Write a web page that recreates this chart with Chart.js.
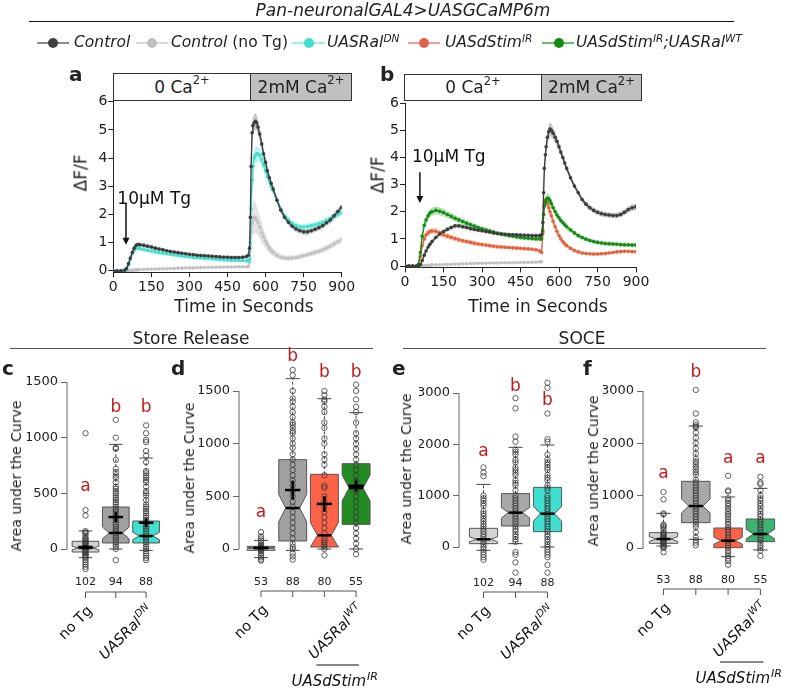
<!DOCTYPE html>
<html><head><meta charset="utf-8">
<script src="https://cdn.jsdelivr.net/npm/chart.js@4.4.1/dist/chart.umd.min.js"></script>
<style>
html,body{margin:0;padding:0;background:#fff}
body{width:787px;height:688px;position:relative;overflow:hidden;font-family:'DejaVu Sans',Verdana,sans-serif;color:#222}
canvas{position:absolute;left:0;top:0}
.t{position:absolute;white-space:nowrap;line-height:1}
.c{transform:translateX(-50%)}
.r{transform:translate(-50%,-50%) rotate(-90deg)}
.sup{font-size:0.68em;position:relative;top:-0.5em}
.hb{position:absolute;box-sizing:border-box;border:1px solid #333;font-size:17px;display:flex;align-items:center;justify-content:center;line-height:1}
.lg{position:absolute}
.pl{position:absolute;font-weight:bold;font-size:20px;line-height:1}
.rule{position:absolute;height:0;border-top:1px solid #555}
</style></head>
<body>
<canvas id="ca" width="787" height="688"></canvas>
<canvas id="cb" width="787" height="688"></canvas>
<canvas id="cc" width="787" height="688"></canvas>
<canvas id="cd" width="787" height="688"></canvas>
<canvas id="ce" width="787" height="688"></canvas>
<canvas id="cf" width="787" height="688"></canvas>

<div class="t c" style="left:403px;top:2px;font-size:17px;font-style:italic">Pan-neuronalGAL4&gt;UASGCaMP6m</div>
<div style="position:absolute;left:29px;top:21px;width:705px;height:0;border-top:1.5px solid #111"></div>

<svg class="lg" style="left:37px;top:37px" width="32" height="12"><line x1="0" y1="6" x2="32" y2="6" stroke="#404040" stroke-width="1.2"/><circle cx="16" cy="6" r="5" fill="#404040"/></svg>
<div class="t" style="left:74px;top:35px;font-size:15.5px;font-style:italic">Control</div>
<svg class="lg" style="left:136px;top:37px" width="32" height="12"><line x1="0" y1="6" x2="32" y2="6" stroke="#c0c0c0" stroke-width="1.2"/><circle cx="16" cy="6" r="5" fill="#c0c0c0"/></svg>
<div class="t" style="left:171px;top:35px;font-size:15.5px"><i>Control</i> (no Tg)</div>
<svg class="lg" style="left:292px;top:37px" width="33" height="12"><line x1="0" y1="6" x2="33" y2="6" stroke="#40e0d0" stroke-width="1.2"/><circle cx="17" cy="6" r="5" fill="#40e0d0"/></svg>
<div class="t" style="left:327px;top:35px;font-size:15.5px;font-style:italic">UASRal<span class="sup">DN</span></div>
<svg class="lg" style="left:408px;top:37px" width="32" height="12"><line x1="0" y1="6" x2="32" y2="6" stroke="#e0604a" stroke-width="1.2"/><circle cx="16" cy="6" r="5" fill="#e0604a"/></svg>
<div class="t" style="left:445px;top:35px;font-size:15.5px;font-style:italic">UASdStim<span class="sup">IR</span></div>
<svg class="lg" style="left:542px;top:37px" width="32" height="12"><line x1="0" y1="6" x2="32" y2="6" stroke="#138d13" stroke-width="1.2"/><circle cx="17" cy="6" r="5" fill="#138d13"/></svg>
<div class="t" style="left:576px;top:35px;font-size:15.5px;font-style:italic">UASdStim<span class="sup">IR</span>;UASRal<span class="sup">WT</span></div>

<div class="pl" style="left:69px;top:64px">a</div>
<div class="pl" style="left:380px;top:64px">b</div>
<div class="pl" style="left:2px;top:358px">c</div>
<div class="pl" style="left:171px;top:358px">d</div>
<div class="pl" style="left:392px;top:358px">e</div>
<div class="pl" style="left:583px;top:358px">f</div>

<div class="hb" style="left:113px;top:73px;width:138px;height:28px;background:#fff">0 Ca<span class="sup">2+</span></div>
<div class="hb" style="left:250px;top:73px;width:102px;height:28px;background:#c0c0c0">2mM Ca<span class="sup">2+</span></div>
<div class="hb" style="left:404px;top:74px;width:138px;height:27px;background:#fff">0 Ca<span class="sup">2+</span></div>
<div class="hb" style="left:541px;top:74px;width:101px;height:27px;background:#c0c0c0">2mM Ca<span class="sup">2+</span></div>

<div class="t r" style="left:81px;top:173px;font-size:17px">ΔF/F</div>
<div class="t r" style="left:378px;top:175px;font-size:17px">ΔF/F</div>
<div class="t c" style="left:244px;top:298px;font-size:17px">Time in Seconds</div>
<div class="t c" style="left:538px;top:298px;font-size:17px">Time in Seconds</div>

<div class="t c" style="left:191px;top:330px;font-size:17px">Store Release</div>
<div class="rule" style="left:10px;top:348px;width:363px"></div>
<div class="t c" style="left:582px;top:330px;font-size:17px">SOCE</div>
<div class="rule" style="left:403px;top:348px;width:363px"></div>

<div class="t r" style="left:16px;top:476px;font-size:14px">Area under the Curve</div>
<div class="t r" style="left:189px;top:478px;font-size:14px">Area under the Curve</div>
<div class="t r" style="left:406px;top:469px;font-size:14px">Area under the Curve</div>
<div class="t r" style="left:593px;top:471px;font-size:14px">Area under the Curve</div>

<script>
// ===================== DATA =====================
const timeSec = [0,15,30,45, 52,60,67,75,82,90,97,105,
 120,135,150,165,180,195,210,225,240,255,270,285,300,315,330,345,360,375,390,405,420,435,450,465,480,495,510,525,
 532,537,540,543,547,550,555,560,565,570,577,585,592,600,607,615,622,630,
 645,660,675,690,705,720,735,750,765,780,795,810,825,840,855,870,885,900];
const xTicksTime = [0,150,300,450,600,750,900];
const yTicksDF = [0,1,2,3,4,5,6];

// Panel a
const aControl = [0,0,0,0.02, 0.08,0.25,0.45,0.65,0.8,0.9,0.93,0.92,
 0.9,0.87,0.84,0.8,0.77,0.74,0.71,0.68,0.66,0.64,0.62,0.6,0.58,0.57,0.55,0.54,0.53,0.52,0.51,0.5,0.49,0.48,0.48,0.47,0.47,0.47,0.48,0.5,
 0.55,0.8,1.9,3.7,4.9,5.15,5.25,5.3,5.25,5.1,4.85,4.5,4.15,3.85,3.55,3.3,3.1,2.9,
 2.5,2.15,1.9,1.72,1.58,1.48,1.42,1.38,1.38,1.42,1.47,1.53,1.6,1.7,1.8,1.95,2.1,2.25];
const aControlSem = [0.02,0.02,0.02,0.02, 0.03,0.04,0.05,0.06,0.07,0.08,0.08,0.08,
 0.08,0.08,0.07,0.07,0.07,0.07,0.06,0.06,0.06,0.06,0.06,0.06,0.06,0.06,0.06,0.06,0.06,0.06,0.06,0.06,0.06,0.06,0.06,0.06,0.06,0.06,0.06,0.07,
 0.08,0.15,0.3,0.3,0.3,0.3,0.3,0.3,0.28,0.27,0.25,0.22,0.2,0.18,0.16,0.15,0.14,0.13,
 0.12,0.11,0.1,0.1,0.1,0.1,0.1,0.1,0.1,0.1,0.1,0.1,0.11,0.11,0.12,0.12,0.13,0.13];
const aRalDN = [0,0,0,0, 0.05,0.2,0.4,0.6,0.72,0.8,0.8,0.78,
 0.75,0.72,0.7,0.67,0.64,0.62,0.6,0.58,0.56,0.54,0.52,0.5,0.49,0.47,0.46,0.45,0.44,0.43,0.42,0.41,0.4,0.39,0.38,0.37,0.37,0.36,0.36,0.35,
 0.36,0.4,1.0,2.2,3.2,3.7,4.0,4.1,4.15,4.15,4.1,3.95,3.75,3.55,3.35,3.2,3.0,2.85,
 2.5,2.2,1.95,1.8,1.68,1.6,1.56,1.55,1.57,1.6,1.63,1.67,1.72,1.78,1.85,1.92,2.0,2.05];
const aRalDNSem = [0.02,0.02,0.02,0.02, 0.03,0.04,0.05,0.06,0.07,0.07,0.07,0.07,
 0.07,0.07,0.07,0.07,0.07,0.07,0.06,0.06,0.06,0.06,0.06,0.06,0.06,0.06,0.06,0.06,0.06,0.06,0.06,0.06,0.06,0.06,0.06,0.06,0.06,0.06,0.06,0.06,
 0.07,0.1,0.25,0.3,0.3,0.3,0.3,0.3,0.28,0.26,0.24,0.22,0.2,0.18,0.17,0.16,0.15,0.14,
 0.13,0.12,0.11,0.11,0.1,0.1,0.1,0.1,0.1,0.1,0.1,0.1,0.1,0.11,0.11,0.12,0.12,0.12];
const aNoTg = [0,0,0,0, 0,0,0.01,0.02,0.02,0.03,0.03,0.04,
 0.04,0.05,0.05,0.06,0.06,0.07,0.07,0.08,0.08,0.09,0.09,0.1,0.1,0.1,0.11,0.11,0.11,0.12,0.12,0.12,0.12,0.13,0.13,0.13,0.13,0.14,0.14,0.14,
 0.15,0.3,0.9,1.4,1.7,1.85,1.9,1.88,1.8,1.7,1.55,1.35,1.2,1.05,0.92,0.8,0.72,0.65,
 0.55,0.48,0.45,0.44,0.45,0.47,0.5,0.53,0.57,0.61,0.65,0.69,0.74,0.8,0.87,0.95,1.03,1.1];
const aNoTgSem = [0.01,0.01,0.01,0.01, 0.01,0.01,0.01,0.01,0.01,0.01,0.01,0.01,
 0.02,0.02,0.02,0.02,0.02,0.02,0.02,0.02,0.02,0.02,0.02,0.02,0.02,0.02,0.02,0.02,0.02,0.02,0.02,0.02,0.02,0.02,0.02,0.02,0.02,0.02,0.02,0.02,
 0.03,0.1,0.3,0.45,0.55,0.6,0.6,0.55,0.5,0.45,0.4,0.35,0.3,0.25,0.2,0.18,0.16,0.14,
 0.12,0.1,0.1,0.09,0.09,0.09,0.09,0.09,0.09,0.1,0.1,0.1,0.1,0.11,0.11,0.12,0.12,0.12];

// Panel b
const bControl = [0,0,0,0, 0,0.05,0.2,0.4,0.55,0.7,0.8,0.9,
 1.05,1.18,1.27,1.35,1.42,1.48,1.48,1.45,1.42,1.38,1.35,1.32,1.3,1.27,1.25,1.22,1.2,1.18,1.17,1.16,1.15,1.15,1.14,1.13,1.13,1.12,1.12,1.12,
 1.15,1.6,2.7,3.6,4.1,4.4,4.75,4.95,5.05,5.0,4.9,4.75,4.6,4.4,4.2,4.0,3.8,3.6,
 3.25,2.95,2.7,2.45,2.28,2.15,2.05,1.98,1.93,1.9,1.88,1.86,1.86,1.9,1.98,2.08,2.15,2.18];
const bControlSem = [0.02,0.02,0.02,0.02, 0.02,0.03,0.04,0.05,0.06,0.07,0.07,0.08,
 0.08,0.08,0.08,0.08,0.08,0.08,0.08,0.08,0.08,0.08,0.07,0.07,0.07,0.07,0.07,0.07,0.07,0.07,0.07,0.07,0.07,0.07,0.07,0.07,0.07,0.07,0.07,0.07,
 0.08,0.15,0.2,0.25,0.25,0.25,0.25,0.25,0.25,0.25,0.22,0.2,0.18,0.16,0.15,0.14,0.13,0.12,
 0.11,0.1,0.1,0.1,0.1,0.1,0.1,0.1,0.1,0.1,0.1,0.1,0.1,0.1,0.11,0.11,0.12,0.12];
const bStimRalWT = [0,0,0,0, 0.05,0.5,1.1,1.5,1.7,1.85,1.95,2.0,
 2.05,2.02,1.97,1.9,1.83,1.76,1.7,1.64,1.58,1.52,1.47,1.42,1.37,1.33,1.29,1.25,1.21,1.18,1.15,1.12,1.1,1.07,1.05,1.03,1.02,1.01,1.0,1.0,
 1.0,1.3,1.9,2.2,2.35,2.45,2.5,2.48,2.4,2.3,2.15,2.0,1.88,1.78,1.68,1.6,1.52,1.45,
 1.33,1.22,1.12,1.05,0.99,0.94,0.9,0.87,0.85,0.83,0.82,0.81,0.8,0.79,0.78,0.78,0.77,0.77];
const bStimRalWTSem = [0.02,0.02,0.02,0.02, 0.03,0.06,0.1,0.12,0.13,0.14,0.15,0.15,
 0.15,0.15,0.14,0.13,0.12,0.12,0.11,0.11,0.1,0.1,0.1,0.09,0.09,0.09,0.09,0.09,0.08,0.08,0.08,0.08,0.08,0.08,0.08,0.08,0.08,0.08,0.08,0.08,
 0.08,0.12,0.15,0.18,0.18,0.18,0.18,0.18,0.17,0.16,0.15,0.14,0.13,0.12,0.11,0.1,0.1,0.1,
 0.09,0.09,0.08,0.08,0.08,0.08,0.08,0.08,0.08,0.08,0.08,0.08,0.08,0.08,0.08,0.08,0.08,0.08];
const bStimIR = [0,0,0,0, 0.05,0.35,0.75,1.0,1.15,1.22,1.27,1.29,
 1.28,1.22,1.15,1.1,1.05,1.01,0.97,0.93,0.9,0.87,0.84,0.81,0.79,0.77,0.75,0.73,0.71,0.7,0.69,0.68,0.67,0.66,0.65,0.64,0.63,0.62,0.6,0.55,
 0.5,1.2,1.9,2.25,2.4,2.4,2.3,2.15,2.0,1.85,1.65,1.45,1.28,1.12,1.0,0.9,0.82,0.75,
 0.65,0.57,0.52,0.48,0.46,0.45,0.44,0.44,0.45,0.46,0.48,0.5,0.52,0.53,0.54,0.54,0.53,0.53];
const bStimIRSem = [0.02,0.02,0.02,0.02, 0.03,0.05,0.08,0.1,0.11,0.12,0.12,0.12,
 0.12,0.12,0.11,0.11,0.1,0.1,0.1,0.09,0.09,0.09,0.09,0.08,0.08,0.08,0.08,0.08,0.08,0.08,0.07,0.07,0.07,0.07,0.07,0.07,0.07,0.07,0.07,0.07,
 0.07,0.12,0.15,0.18,0.18,0.18,0.17,0.16,0.15,0.14,0.13,0.12,0.11,0.1,0.09,0.08,0.08,0.07,
 0.07,0.07,0.06,0.06,0.06,0.06,0.06,0.06,0.06,0.06,0.06,0.06,0.06,0.06,0.06,0.06,0.06,0.06];
const bNoTg = [0,0,0,0, 0,0,0.01,0.02,0.02,0.03,0.03,0.04,
 0.04,0.05,0.05,0.06,0.06,0.07,0.07,0.08,0.08,0.09,0.09,0.1,0.1,0.1,0.11,0.11,0.11,0.12,0.12,0.12,0.12,0.13,0.13,0.13,0.13,0.14,0.14,0.15,
 0.16];
const bNoTgSem = [0.01,0.01,0.01,0.01, 0.01,0.01,0.01,0.01,0.01,0.01,0.01,0.01,
 0.02,0.02,0.02,0.02,0.02,0.02,0.02,0.02,0.02,0.02,0.02,0.02,0.02,0.02,0.02,0.02,0.02,0.02,0.02,0.02,0.02,0.02,0.02,0.02,0.02,0.02,0.02,0.02,
 0.02];

// Panel c (Store release)
const cCounts = [102, 94, 88];
const cLabels = ['no Tg', '', 'UASRal^DN'];
const cLetters = ['a', 'b', 'b'];
const cLetterY = [560, 1270, 1270];
const cTicks = [0, 500, 1000, 1500];
const cQ1 = [-27, 54, 54], cMed = [9, 144, 117], cQ3 = [69, 377, 251];
const cLo = [-78, 0, -12], cHi = [162, 940, 817];
const cMean = [18, 287, 236], cMeanCI = [15, 45, 40];
const cPts0 = [1040,350,300,160,150,140,120,100,90,80,70,60,50,40,30,20,10,0,-10,-20,-30,-40,-50,-60,-70,-80,-100,-120,-140,-160,-180];
const cPts1 = [1160,1000,910,900,800,720,690,660,640,600,560,540,520,500,480,460,440,420,400,380,360,340,320,300,280,260,240,220,200,180,160,140,120,100,80,60,40,20,0,-100];
const cPts2 = [1110,1040,980,960,880,840,780,700,680,660,640,620,600,560,520,500,480,440,400,380,360,340,320,300,280,260,240,220,200,180,160,140,120,100,80,60,40,20,0,-20,-40,-60,-80,-100];

// Panel d (Store release)
const dCounts = [53, 88, 80, 55];
const dLabels = ['no Tg', '', '', 'UASRal^WT'];
const dLetters = ['a', 'b', 'b', 'b'];
const dLetterY = [350, 1830, 1675, 1675];
const dTicks = [0, 500, 1000, 1500];
const dQ1 = [-13, 76, 19, 234], dMed = [9, 389, 130, 579], dQ3 = [25, 848, 709, 810];
const dLo = [-82, -13, 0, 0], dHi = [82, 1617, 1427, 1294];
const dMean = [10, 560, 428, 600], dMeanCI = [15, 90, 75, 60];
const dPts0 = [160,120,100,80,60,40,30,20,10,0,-10,-20,-40,-60,-80,-100,-110];
const dPts1 = [1700,1650,1500,1430,1400,1350,1300,1250,1200,1180,1150,1120,1100,1050,1000,960,900,850,800,750,700,650,600,550,500,450,400,350,300,250,200,150,100,50,20,0,-40,-70,-100];
const dPts2 = [1500,1460,1420,1400,1350,1300,1200,1150,1050,1000,900,850,800,700,600,580,500,450,400,350,300,250,200,150,100,80,60,40,20,0,-60];
const dPts3 = [1560,1500,1420,1350,1300,1200,1100,1050,1000,950,900,850,800,750,700,650,600,550,500,450,400,350,300,250,200,150,100,50,0,-50];

// Panel e (SOCE)
const eCounts = [102, 94, 88];
const eLabels = ['no Tg', '', 'UASRal^DN'];
const eLetters = ['a', 'b', 'b'];
const eLetterY = [1860, 3120, 2860];
const eTicks = [0, 1000, 2000, 3000];
const eQ1 = [65, 409, 299], eMed = [150, 669, 649], eQ3 = [364, 1040, 1162];
const eLo = [-65, 65, 0], eHi = [1220, 1942, 1987];
const ePts0 = [1550,1450,1380,1000,950,900,850,800,700,650,600,550,500,450,400,350,300,250,200,150,100,50,0,-50,-100,-150,-200,-250];
const ePts1 = [2900,2700,2150,2050,1900,1850,1800,1700,1650,1550,1500,1450,1400,1300,1250,1200,1100,1000,950,900,850,800,750,700,650,600,550,500,450,400,350,300,250,200,150,100,-100,-150,-300,-500];
const ePts2 = [3200,3100,2600,2100,2050,1800,1700,1650,1600,1550,1500,1400,1350,1300,1200,1150,1100,1000,950,900,850,800,750,700,650,600,550,500,450,400,350,300,250,200,150,100,50,0,-50,-100,-150,-200,-350,-500];

// Panel f (SOCE)
const fCounts = [53, 88, 80, 55];
const fLabels = ['no Tg', '', '', 'UASRal^WT'];
const fLetters = ['a', 'b', 'a', 'a'];
const fLetterY = [1430, 3350, 1700, 1700];
const fTicks = [0, 1000, 2000, 3000];
const fQ1 = [89, 484, 6, 121], fMed = [172, 802, 140, 267], fQ3 = [293, 1274, 382, 554];
const fLo = [38, 166, -166, -38], fHi = [662, 2331, 975, 1140];
const fPts0 = [1070,930,660,640,450,420,400,350,300,280,260,240,220,200,180,160,140,120,100,80,60,40,20,0,-80];
const fPts1 = [3020,2570,2400,2350,2320,2300,2200,2100,2000,1900,1800,1700,1650,1600,1550,1500,1450,1400,1300,1250,1200,1150,1100,1050,1000,950,900,850,800,750,700,650,600,550,500,450,400,300,200,150,100,50];
const fPts2 = [1380,1100,1080,950,900,850,800,750,700,650,600,550,500,450,400,350,300,250,200,150,100,50,0,-50,-100,-150,-200,-250,-320];
const fPts3 = [1360,1250,1220,1100,1000,950,900,850,800,750,700,650,600,550,500,450,400,350,300,250,200,150,100,50,0,-50,-150];

// ===================== DRAWING =====================
const W = 787, H = 688;
const F = "'DejaVu Sans', Verdana, sans-serif";
Chart.defaults.font.family = F;
Chart.defaults.color = '#222';

function seg(ctx, x1, y1, x2, y2){ ctx.beginPath(); ctx.moveTo(x1, y1); ctx.lineTo(x2, y2); ctx.stroke(); }

function rich(ctx, str, x, y, size, align){
  const it = /^UAS/.test(str);
  const parts = str.split('^');
  const f1 = (it ? 'italic ' : '') + size + 'px ' + F;
  const f2 = (it ? 'italic ' : '') + Math.round(size * 0.7) + 'px ' + F;
  ctx.font = f1; const w1 = ctx.measureText(parts[0]).width;
  let w2 = 0;
  if (parts[1]) { ctx.font = f2; w2 = ctx.measureText(parts[1]).width + 1; }
  const tot = w1 + w2;
  const x0 = align === 'right' ? x - tot : align === 'center' ? x - tot / 2 : x;
  ctx.textAlign = 'left'; ctx.textBaseline = 'alphabetic';
  ctx.font = f1; ctx.fillText(parts[0], x0, y);
  if (parts[1]) { ctx.font = f2; ctx.fillText(parts[1], x0 + w1 + 1, y - size * 0.42); }
}

function makeArrowPlugin(a){
  return { id: 'tgArrow', afterDatasetsDraw(chart){
    const ctx = chart.ctx, X = v => chart.scales.x.getPixelForValue(v), Y = v => chart.scales.y.getPixelForValue(v);
    ctx.save();
    ctx.fillStyle = '#111'; ctx.strokeStyle = '#111';
    ctx.font = '17px ' + F; ctx.textAlign = 'left'; ctx.textBaseline = 'middle';
    ctx.fillText('10μM Tg', X(a.textT), Y(a.textY));
    const x = X(a.t), y1 = Y(a.y1), y2 = Y(a.y2);
    ctx.lineWidth = 1.5; seg(ctx, x, y1, x, y2 - 5);
    ctx.beginPath(); ctx.moveTo(x - 3.5, y2 - 7); ctx.lineTo(x + 3.5, y2 - 7); ctx.lineTo(x, y2); ctx.closePath(); ctx.fill();
    ctx.restore();
  }};
}

function lineChart(id, g){
  const ds = [];
  g.series.forEach(s => {
    ds.push({ data: s.vals.map((v, i) => ({x: timeSec[i], y: v + s.sem[i]})), borderColor: 'transparent', borderWidth: 0, pointRadius: 0, fill: false, order: 20 });
    ds.push({ data: s.vals.map((v, i) => ({x: timeSec[i], y: v - s.sem[i]})), borderColor: 'transparent', borderWidth: 0, pointRadius: 0, fill: '-1', backgroundColor: s.band, order: 20 });
  });
  g.series.forEach(s => {
    ds.push({ data: s.vals.map((v, i) => ({x: timeSec[i], y: v})), borderColor: s.color, backgroundColor: s.color,
      borderWidth: 1.4, pointRadius: 1.8, pointBorderWidth: 0, pointBackgroundColor: s.color, fill: false, order: s.order });
  });
  const AW = 44, XH = 28;
  const unit = (g.y0 - g.y6) / 6;
  const top = g.y6, bottom = g.y0 + 0.05 * unit;
  new Chart(document.getElementById(id), {
    type: 'line',
    data: { datasets: ds },
    options: {
      responsive: false, animation: false, devicePixelRatio: 1, events: [],
      layout: { padding: { left: g.left - AW, right: W - g.right, top: top, bottom: H - bottom - XH } },
      plugins: { legend: { display: false }, tooltip: { enabled: false } },
      elements: { line: { tension: 0 } },
      scales: {
        x: { type: 'linear', min: 0, max: 900,
          afterBuildTicks: s => { s.ticks = xTicksTime.map(v => ({value: v})); },
          afterFit: s => { s.height = XH; },
          ticks: { callback: v => String(v), color: '#222', font: { size: 14 }, padding: 2, maxRotation: 0, autoSkip: false },
          grid: { drawOnChartArea: false, drawTicks: true, tickLength: 5, color: '#222' },
          border: { display: true, color: '#222', width: 1 } },
        y: { type: 'linear', min: -0.05, max: 6,
          afterBuildTicks: s => { s.ticks = yTicksDF.map(v => ({value: v})); },
          afterFit: s => { s.width = AW; },
          ticks: { callback: v => String(v), color: '#222', font: { size: 14 }, padding: 1 },
          grid: { drawOnChartArea: false, drawTicks: true, tickLength: 5, color: '#222' },
          border: { display: true, color: '#222', width: 1 } }
      }
    },
    plugins: [makeArrowPlugin(g.arrow)]
  });
}

function makeBoxPlugin(g){
  return {
    id: 'boxes',
    beforeDatasetsDraw(chart){
      const ctx = chart.ctx, xs = chart.scales.x, ys = chart.scales.y;
      const Y = v => ys.getPixelForValue(v);
      const sp = xs.getPixelForValue(1) - xs.getPixelForValue(0), hw = sp * 0.44;
      ctx.save();
      ctx.strokeStyle = '#666'; ctx.lineWidth = 1;
      const ax = chart.chartArea.left;
      seg(ctx, ax, Y(g.ticks[0]), ax, Y(g.ticks[g.ticks.length - 1]));
      g.q1.forEach((q1, i) => {
        const cx = xs.getPixelForValue(i), med = g.med[i], q3 = g.q3[i];
        const nt = 1.58 * (q3 - q1) / Math.sqrt(g.n[i]);
        const nlo = Math.max(q1, med - nt), nhi = Math.min(q3, med + nt);
        ctx.strokeStyle = '#444'; ctx.lineWidth = 1; ctx.setLineDash([3, 2]);
        seg(ctx, cx, Y(q3), cx, Y(g.hi[i])); seg(ctx, cx, Y(q1), cx, Y(g.lo[i]));
        ctx.setLineDash([]);
        seg(ctx, cx - hw * 0.5, Y(g.hi[i]), cx + hw * 0.5, Y(g.hi[i]));
        seg(ctx, cx - hw * 0.5, Y(g.lo[i]), cx + hw * 0.5, Y(g.lo[i]));
        ctx.beginPath();
        ctx.moveTo(cx - hw, Y(q1)); ctx.lineTo(cx - hw, Y(nlo)); ctx.lineTo(cx - hw / 2, Y(med));
        ctx.lineTo(cx - hw, Y(nhi)); ctx.lineTo(cx - hw, Y(q3)); ctx.lineTo(cx + hw, Y(q3));
        ctx.lineTo(cx + hw, Y(nhi)); ctx.lineTo(cx + hw / 2, Y(med)); ctx.lineTo(cx + hw, Y(nlo));
        ctx.lineTo(cx + hw, Y(q1)); ctx.closePath();
        ctx.fillStyle = g.colors[i]; ctx.fill();
        ctx.strokeStyle = '#555'; ctx.lineWidth = 1; ctx.stroke();
      });
      ctx.restore();
    },
    afterDatasetsDraw(chart){
      const ctx = chart.ctx, xs = chart.scales.x, ys = chart.scales.y;
      const Y = v => ys.getPixelForValue(v), X = v => xs.getPixelForValue(v);
      const sp = X(1) - X(0), hw = sp * 0.44;
      ctx.save();
      ctx.strokeStyle = '#000'; ctx.lineWidth = 2.5;
      g.med.forEach((m, i) => { const cx = X(i); seg(ctx, cx - hw / 2, Y(m), cx + hw / 2, Y(m)); });
      if (g.mean) g.mean.forEach((m, i) => {
        const cx = X(i);
        seg(ctx, cx - hw * 0.55, Y(m), cx + hw * 0.55, Y(m));
        seg(ctx, cx, Y(m - g.meanCI[i]), cx, Y(m + g.meanCI[i]));
      });
      // counts
      ctx.fillStyle = '#222'; ctx.font = '11px ' + F; ctx.textAlign = 'center'; ctx.textBaseline = 'middle';
      g.n.forEach((n, i) => ctx.fillText(String(n), X(i), g.countY));
      // bracket
      const n = g.n.length;
      ctx.strokeStyle = '#555'; ctx.lineWidth = 1;
      seg(ctx, X(0), g.bracketY, X(n - 1), g.bracketY);
      for (let i = 0; i < n; i++) seg(ctx, X(i), g.bracketY, X(i), g.bracketY + 6);
      // rotated labels
      ctx.fillStyle = '#111';
      g.labels.forEach((lab, i) => {
        if (!lab) return;
        ctx.save(); ctx.translate(X(i) + 4, g.bracketY + 16); ctx.rotate(-Math.PI / 4);
        rich(ctx, lab, 0, 5, 14.5, 'right'); ctx.restore();
      });
      // group underline
      if (g.group) {
        const x1 = X(g.group.from) - 8, x2 = X(g.group.to) + 3;
        ctx.strokeStyle = '#111'; seg(ctx, x1, g.group.y, x2, g.group.y);
        rich(ctx, g.group.label, (x1 + x2) / 2 - 3, g.group.y + 21, 15, 'center');
      }
      // significance letters
      ctx.fillStyle = '#c41a1a'; ctx.font = '17px ' + F; ctx.textAlign = 'center'; ctx.textBaseline = 'middle';
      g.letters.forEach((l, i) => ctx.fillText(l, X(i), Y(g.letterY[i])));
      ctx.restore();
    }
  };
}

function boxChart(id, g){
  const n = g.q1.length, AW = 40;
  const xMin = -(g.c0 - g.axisX) / g.sp, xMax = n - 1 + 0.6;
  const right = g.c0 + xMax * g.sp;
  const top = g.yZero - g.yMax * g.k, bottom = g.yZero - g.yMin * g.k;
  const pts = [];
  g.pts.forEach((arr, i) => arr.forEach(v => pts.push({x: i, y: v})));
  new Chart(document.getElementById(id), {
    type: 'scatter',
    data: { datasets: [{ data: pts, pointRadius: 2.7, pointBorderWidth: 0.8, pointBorderColor: '#3a3a3a', pointBackgroundColor: 'rgba(0,0,0,0)' }] },
    options: {
      responsive: false, animation: false, devicePixelRatio: 1, events: [],
      layout: { padding: { left: g.axisX - AW, right: W - right, top: top, bottom: H - bottom } },
      plugins: { legend: { display: false }, tooltip: { enabled: false } },
      scales: {
        x: { type: 'linear', display: false, min: xMin, max: xMax },
        y: { type: 'linear', min: g.yMin, max: g.yMax,
          afterBuildTicks: s => { s.ticks = g.ticks.map(v => ({value: v})); },
          afterFit: s => { s.width = AW; },
          ticks: { callback: v => String(v), color: '#222', font: { size: 13 }, padding: 3 },
          grid: { drawOnChartArea: false, drawTicks: true, tickLength: 6, color: '#666' },
          border: { display: false } }
      }
    },
    plugins: [makeBoxPlugin(g)]
  });
}

// Line panels
lineChart('ca', { left: 113.3, right: 341.7, y6: 101.7, y0: 270.7,
  series: [
    { vals: aNoTg, sem: aNoTgSem, color: '#c2c2c2', band: 'rgba(200,200,200,0.5)', order: 3 },
    { vals: aRalDN, sem: aRalDNSem, color: '#40e0d0', band: 'rgba(64,224,208,0.35)', order: 2 },
    { vals: aControl, sem: aControlSem, color: '#3d3d3d', band: 'rgba(90,90,90,0.35)', order: 1 }
  ],
  arrow: { textT: 16, textY: 2.52, t: 50, y1: 2.4, y2: 0.92 } });

lineChart('cb', { left: 405, right: 636, y6: 103.3, y0: 266,
  series: [
    { vals: bNoTg, sem: bNoTgSem, color: '#c2c2c2', band: 'rgba(200,200,200,0.5)', order: 4 },
    { vals: bStimIR, sem: bStimIRSem, color: '#e8603c', band: 'rgba(232,96,60,0.3)', order: 3 },
    { vals: bStimRalWT, sem: bStimRalWTSem, color: '#138d13', band: 'rgba(19,141,19,0.3)', order: 2 },
    { vals: bControl, sem: bControlSem, color: '#3d3d3d', band: 'rgba(90,90,90,0.35)', order: 1 }
  ],
  arrow: { textT: 27, textY: 4.0, t: 58, y1: 3.46, y2: 2.32 } });

// Box panels
boxChart('cc', { axisX: 67, c0: 85.5, sp: 30.3, yZero: 549, k: 0.11133, yMin: -300, yMax: 1700, ticks: cTicks,
  n: cCounts, labels: cLabels, letters: cLetters, letterY: cLetterY,
  q1: cQ1, med: cMed, q3: cQ3, lo: cLo, hi: cHi, mean: cMean, meanCI: cMeanCI,
  pts: [cPts0, cPts1, cPts2], colors: ['#d3d3d3', '#a0a0a0', '#40e0d0'], countY: 582, bracketY: 592 });

boxChart('cd', { axisX: 239, c0: 261, sp: 31.7, yZero: 549, k: 0.10533, yMin: -300, yMax: 1800, ticks: dTicks,
  n: dCounts, labels: dLabels, letters: dLetters, letterY: dLetterY,
  q1: dQ1, med: dMed, q3: dQ3, lo: dLo, hi: dHi, mean: dMean, meanCI: dMeanCI,
  pts: [dPts0, dPts1, dPts2, dPts3], colors: ['#d3d3d3', '#a0a0a0', '#ff6347', '#228b22'], countY: 582, bracketY: 591,
  group: { from: 2, to: 3, y: 665, label: 'UASdStim^IR' } });

boxChart('ce', { axisX: 459, c0: 483.5, sp: 32, yZero: 547, k: 0.05133, yMin: -600, yMax: 3300, ticks: eTicks,
  n: eCounts, labels: eLabels, letters: eLetters, letterY: eLetterY,
  q1: eQ1, med: eMed, q3: eQ3, lo: eLo, hi: eHi, mean: null,
  pts: [ePts0, ePts1, ePts2], colors: ['#d3d3d3', '#a8a8a8', '#40e0d0'], countY: 583, bracketY: 592 });

boxChart('cf', { axisX: 643, c0: 663.5, sp: 32.3, yZero: 548, k: 0.05233, yMin: -600, yMax: 3300, ticks: fTicks,
  n: fCounts, labels: fLabels, letters: fLetters, letterY: fLetterY,
  q1: fQ1, med: fMed, q3: fQ3, lo: fLo, hi: fHi, mean: null,
  pts: [fPts0, fPts1, fPts2, fPts3], colors: ['#d3d3d3', '#a8a8a8', '#ff6347', '#3cb371'], countY: 580, bracketY: 589,
  group: { from: 2, to: 3, y: 662, label: 'UASdStim^IR' } });
</script>
</body></html>
